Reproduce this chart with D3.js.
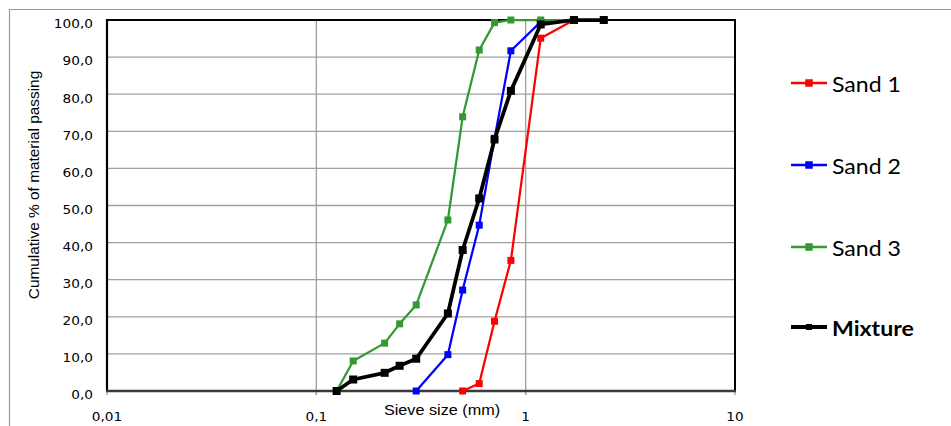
<!DOCTYPE html>
<html><head><meta charset="utf-8">
<script src="https://cdn.jsdelivr.net/npm/d3@7/dist/d3.min.js"></script>
<style>body{margin:0;background:#fff}svg{display:block}</style>
</head><body>
<svg id="c" width="951" height="426"></svg>
<script>
// ---- data ----
const sieveSizes = [0.125, 0.15, 0.212, 0.25, 0.3, 0.425, 0.5, 0.6, 0.71, 0.85, 1.18, 1.7, 2.36];
const sand1   = [null, null, null, null, null, null, 0, 2.0, 18.8, 35.2, 95.1, 100, 100];
const sand2   = [null, null, null, null, 0, 9.8, 27.2, 44.7, 68.1, 91.7, 99.5, 100, 100];
const sand3   = [0, 8.1, 12.9, 18.1, 23.2, 46.1, 73.9, 91.9, 99.3, 100, 100, 100, 100];
const mixture = [0, 3.1, 4.9, 6.8, 8.7, 20.9, 38.0, 51.9, 67.8, 80.9, 98.8, 100, 100];
const seriesNames = ["Sand 1", "Sand 2", "Sand 3", "Mixture"];
const yTicks = [0, 10, 20, 30, 40, 50, 60, 70, 80, 90, 100];
const xTicks = [0.01, 0.1, 1, 10];
const xTickLabels = ["0,01", "0,1", "1", "10"];
const yTitle = "Cumulative % of material passing";
const xTitle = "Sieve size (mm)";

const colors = ["#ff0000", "#0000ff", "#339933", "#000000"];
const widths = [2.25, 2.25, 2.25, 3.75];
const seriesData = [sand1, sand2, sand3, mixture];

const svg = d3.select("#c");
const L = 107, R = 735, T = 20, B = 391;
const x = d3.scaleLog().domain([0.01, 10]).range([L, R]);
const y = d3.scaleLinear().domain([0, 100]).range([B, T]);
const SX = 1.18;

function stext(g, tx, ty, str, opts) {
  const t = g.append("text")
    .attr("transform", `translate(${tx},${ty}) scale(${opts.sx || SX},1)`)
    .attr("font-family", opts.family)
    .attr("font-size", opts.size)
    .attr("text-anchor", opts.anchor || "start")
    .attr("fill", opts.fill || "#000")
    .text(str);
  if (opts.weight) t.attr("font-weight", opts.weight);
  return t;
}

// outer chart border
svg.append("path").attr("d", "M9.5,426 V9.5 H951").attr("fill", "none").attr("stroke", "#9a9a9a").attr("stroke-width", 1.2);

// gridlines
const grid = svg.append("g");
grid.selectAll("line.h").data(yTicks.filter(v => v > 0 && v < 100)).join("line")
  .attr("x1", L).attr("x2", R).attr("y1", d => y(d)).attr("y2", d => y(d))
  .attr("stroke", "#a0a0a0").attr("stroke-width", 1.3);
grid.selectAll("line.v").data(xTicks.filter(v => v > 0.01 && v < 10)).join("line")
  .attr("x1", d => x(d)).attr("x2", d => x(d)).attr("y1", T).attr("y2", B + 4)
  .attr("stroke", "#a0a0a0").attr("stroke-width", 1.3);
// bottom ticks
grid.selectAll("line.t").data(xTicks).join("line")
  .attr("x1", d => x(d)).attr("x2", d => x(d)).attr("y1", B).attr("y2", B + 4)
  .attr("stroke", "#a0a0a0").attr("stroke-width", 1.3);

// frame
svg.append("path").attr("d", `M${L},${T} H${R} V${B}`).attr("fill", "none").attr("stroke", "#000").attr("stroke-width", 2);
svg.append("line").attr("x1", L).attr("x2", L).attr("y1", T - 1).attr("y2", B).attr("stroke", "#000").attr("stroke-width", 2.2);
svg.append("line").attr("x1", L - 1).attr("x2", R + 1).attr("y1", B).attr("y2", B).attr("stroke", "#3a3a3a").attr("stroke-width", 2.6);

// tick labels
const lab = svg.append("g");
yTicks.forEach(v => stext(lab, 93, y(v) + 8.3, d3.format(".1f")(v).replace(".", ","),
  {family: "DejaVu Sans", size: 11.6, anchor: "end"}));
xTicks.forEach((v, i) => stext(lab, x(v), 421, xTickLabels[i],
  {family: "DejaVu Sans", size: 11.6, anchor: "middle"}));

// axis titles
stext(lab, 442, 414.5, xTitle, {family: "Liberation Sans", size: 15, anchor: "middle", sx: 1.08});
lab.append("text").attr("transform", "translate(39,185) rotate(-90)")
  .attr("font-family", "Liberation Sans").attr("font-size", 15.4).attr("text-anchor", "middle")
  .attr("fill", "#000").text(yTitle);

// series
const line = d3.line().defined(d => d.v !== null).x(d => x(d.s)).y(d => y(d.v));
seriesData.forEach((arr, i) => {
  const pts = sieveSizes.map((s, j) => ({s, v: arr[j]}));
  const g = svg.append("g");
  g.append("path").datum(pts).attr("d", line).attr("fill", "none")
    .attr("stroke", colors[i]).attr("stroke-width", widths[i]).attr("stroke-linejoin", "round");
  const m = i === 3 ? 8 : 7;
  g.selectAll("rect").data(pts.filter(d => d.v !== null)).join("rect")
    .attr("x", d => x(d.s) - m / 2).attr("y", d => y(d.v) - m / 2)
    .attr("width", m).attr("height", m).attr("fill", colors[i]);
});

// legend
const legY = [83, 165, 247, 327];
const leg = svg.append("g");
seriesNames.forEach((n, i) => {
  const ly = legY[i];
  leg.append("line").attr("x1", 791).attr("x2", 827).attr("y1", ly).attr("y2", ly)
    .attr("stroke", colors[i]).attr("stroke-width", i === 3 ? 4 : 2.5);
  const m = i === 3 ? 6 : 7.5;
  leg.append("rect").attr("x", 809 - m / 2).attr("y", ly - m / 2).attr("width", m).attr("height", m).attr("fill", colors[i]);
  stext(leg, 832, ly + 8.5, n, {family: "Lato", size: 21, sx: 1.1, weight: i === 3 ? "bold" : null});
});
</script>
</body></html>
